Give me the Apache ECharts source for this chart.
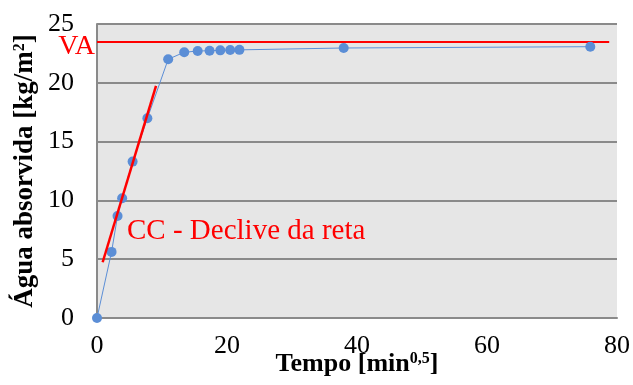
<!DOCTYPE html>
<html>
<head>
<meta charset="utf-8">
<script src="https://cdn.jsdelivr.net/npm/echarts@6/dist/echarts.min.js"></script>
<style>
html,body{margin:0;padding:0;background:#fff;}
#c{width:633px;height:385px;}
</style>
</head>
<body>
<div id="c"></div>
<script>
// Data
var tempo = [0, 2.24, 3.16, 3.87, 5.48, 7.75, 10.95, 13.42, 15.49, 17.32, 18.97, 20.49, 21.91, 37.95, 75.89];
var agua  = [0, 5.62, 8.67, 10.18, 13.3, 16.98, 22.0, 22.6, 22.7, 22.73, 22.76, 22.79, 22.8, 22.96, 23.07];
var vaX = [0, 78.8];
var vaY = [23.47, 23.47];
var ccX = [0.87, 9.08];
var ccY = [4.74, 19.73];
var xTicks = [0, 20, 40, 60, 80];
var yTicks = [0, 5, 10, 15, 20, 25];

function pairs(xs, ys){ return xs.map(function(x,i){return [x, ys[i]];}); }

var FONT = '"Liberation Serif","Times New Roman",serif';
var chart = echarts.init(document.getElementById('c'), null, {renderer:'canvas'});
var option = {
  animation:false,
  backgroundColor:'#ffffff',
  grid:{left:97, top:24, right:16, bottom:67, show:true, backgroundColor:'#e6e6e6', borderWidth:0,
        containLabel:false, outerBoundsMode:'none'},
  xAxis:{
    type:'value', min:xTicks[0], max:xTicks[xTicks.length-1], interval:20,
    axisLine:{show:true, lineStyle:{color:'#8a8a8a', width:2}},
    axisTick:{show:false}, splitLine:{show:false},
    axisLabel:{color:'#000', fontFamily:FONT, fontSize:26, margin:15},
    name:'{t|Tempo [min}{s|0,5}{t|]}', nameLocation:'middle', nameGap:33, nameMoveOverlap:false,
    nameTextStyle:{rich:{
      t:{fontFamily:FONT, fontSize:26, fontWeight:'bold', color:'#000', verticalAlign:'bottom'},
      s:{fontFamily:FONT, fontSize:16, fontWeight:'bold', color:'#000', verticalAlign:'top'}
    }}
  },
  yAxis:{
    type:'value', min:yTicks[0], max:yTicks[yTicks.length-1], interval:5,
    axisLine:{show:true, lineStyle:{color:'#8a8a8a', width:2}},
    axisTick:{show:false},
    splitLine:{show:true, lineStyle:{color:'#8a8a8a', width:2}},
    axisLabel:{color:'#000', fontFamily:FONT, fontSize:26, margin:23},
    name:'{t|Água absorvida [kg/m}{s|2}{t|]}', nameLocation:'middle', nameGap:58, nameMoveOverlap:false,
    nameTextStyle:{rich:{
      t:{fontFamily:FONT, fontSize:27, fontWeight:'bold', color:'#000', verticalAlign:'bottom'},
      s:{fontFamily:FONT, fontSize:16, fontWeight:'bold', color:'#000', verticalAlign:'top'}
    }}
  },
  series:[
    {
      type:'line', data:pairs(tempo, agua), symbol:'circle', symbolSize:10,
      itemStyle:{color:'#5b8ed6'}, lineStyle:{color:'#5b8ed6', width:1}, z:3
    },
    {
      type:'line', data:pairs(vaX, vaY), symbol:'none',
      lineStyle:{color:'#ff0000', width:2}, z:2
    },
    {
      type:'line', data:pairs(ccX, ccY), symbol:'none',
      lineStyle:{color:'#ff0000', width:2.5}, z:4
    }
  ]
};
chart.setOption(option);

var vaPos = chart.convertToPixel({gridIndex:0}, [vaX[0], vaY[0]]);
chart.setOption({
  graphic:[
    {type:'text', x:vaPos[0]-2, y:vaPos[1]+5, z:10,
     style:{text:'VA', fill:'#ff0000', font:'28px '+FONT, textAlign:'right', textVerticalAlign:'middle'}},
    {type:'text', x:127, y:231, z:10,
     style:{text:'CC - Declive da reta', fill:'#ff0000', font:'29px '+FONT, textAlign:'left', textVerticalAlign:'middle'}}
  ]
});
</script>
</body>
</html>
